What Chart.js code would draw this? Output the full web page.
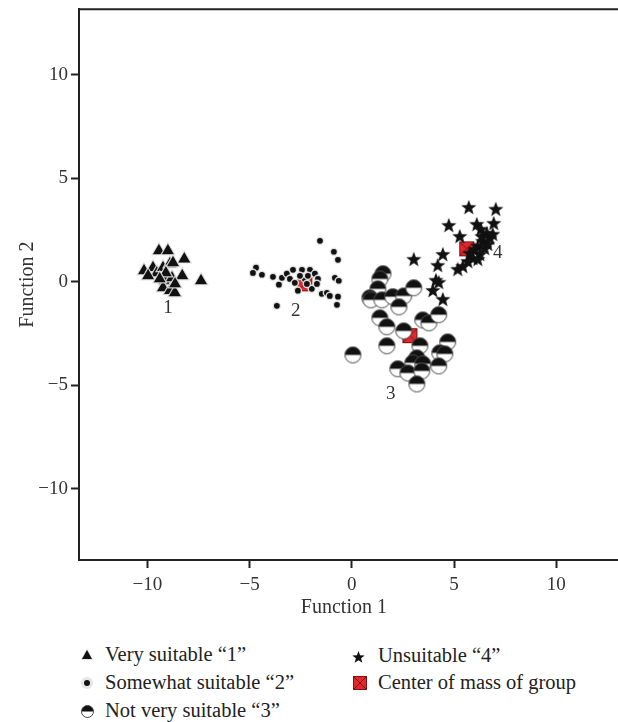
<!DOCTYPE html>
<html>
<head>
<meta charset="utf-8">
<script src="https://cdn.jsdelivr.net/npm/chart.js@4"></script>
<style>
    html, body { margin: 0; background: #fff; overflow: hidden; font-family: "Liberation Serif", "DejaVu Serif", serif; }
    #wrap { position: relative; width: 618px; height: 722px; overflow: hidden; }
    #scatterChart { position: absolute; left: 0; top: 0; }
    .item { position: absolute; font-size: 20.5px; color: #222; line-height: 22px; white-space: nowrap; }
    .item canvas { position: absolute; }
</style>
</head>
<body>
<div id="wrap">
    <canvas id="scatterChart" width="618" height="625"></canvas>
    <div id="legend"></div>
</div>
<script>
// Group 1: Very suitable
const group1X = [-9.44, -9.0, -8.2, -10.17, -9.73, -9.54, -9.24, -8.9, -8.75, -9.14, -8.8, -8.3, -9.24, -8.9, -8.66, -7.38, -9.97, -9.1, -9.4, -8.65];
const group1Y = [1.5, 1.5, 1.1, 0.53, 0.68, 0.43, 0.68, 0.87, 0.92, 0.05, 0.19, 0.29, -0.29, -0.43, -0.53, 0.05, 0.29, 0.43, 0.14, -0.1];

// Group 2: Somewhat suitable
const group2X = [-1.56, -0.88, -0.68, -4.69, -4.84, -4.4, -3.86, -3.57, -3.42, -3.18, -2.88, -2.44, -2.05, -1.81, -1.66, -3.03, -2.79, -2.64, -1.96, -1.71, -0.83, -0.64, -1.47, -1.22, -1.08, -0.68, -0.73, -3.67, -2.3, -2.15, -2.54, -2.2];
const group2Y = [1.98, 1.45, 1.06, 0.68, 0.43, 0.34, 0.24, -0.14, 0.19, 0.39, 0.58, 0.58, 0.58, 0.39, 0.14, 0.14, -0.05, -0.43, -0.34, -0.1, 0.19, 0.05, -0.58, -0.53, -0.68, -0.72, -1.11, -1.16, 0.14, 0.29, 0.29, -0.1];

// Group 3: Not very suitable
const group3X = [1.52, 1.37, 1.27, 0.88, 0.93, 1.47, 2.0, 2.54, 3.03, 2.3, 1.37, 1.71, 3.47, 3.77, 4.25, 2.54, 3.33, 1.71, 4.69, 4.3, 4.55, 3.18, 2.98, 3.47, 4.25, 2.25, 2.74, 3.42, 3.18, 0.05];
const group3Y = [0.39, 0.14, -0.34, -0.77, -0.87, -0.87, -0.72, -0.68, -0.29, -1.21, -1.74, -2.17, -1.84, -1.98, -1.59, -2.37, -3.09, -3.09, -2.9, -3.43, -3.48, -3.67, -3.91, -3.96, -4.06, -4.2, -4.4, -4.3, -4.93, -3.53];

// Group 4: Unsuitable
const group4X = [5.72, 7.04, 4.74, 6.94, 6.11, 5.28, 6.31, 6.6, 6.75, 6.4, 6.16, 6.01, 6.5, 6.26, 5.92, 5.67, 5.43, 5.18, 6.16, 4.45, 3.03, 4.2, 4.11, 4.25, 3.96, 4.45, 6.65, 5.77, 6.36, 6.89];
const group4Y = [3.62, 3.53, 2.75, 2.85, 2.8, 2.22, 2.56, 2.37, 2.13, 1.98, 1.74, 1.59, 1.64, 1.35, 1.16, 1.01, 0.77, 0.63, 1.11, 1.35, 1.11, 0.82, 0.1, 0.0, -0.39, -0.82, 1.84, 1.4, 2.22, 2.32];

// Centers of mass
const centerX = [-9.1, -2.3, 2.84, 5.62];
const centerY = [0.35, -0.1, -2.6, 1.59];

// Group number labels
const groupLabels = ['1', '2', '3', '4'];
const groupLabelX = [-8.99, -2.74, 1.9, 7.14];
const groupLabelY = [-1.26, -1.4, -5.4, 1.4];

const legendNames = ['Very suitable \u201c1\u201d', 'Somewhat suitable \u201c2\u201d', 'Not very suitable \u201c3\u201d', 'Unsuitable \u201c4\u201d', 'Center of mass of group'];

((document) => {
    'use strict';

    const serif = '"Liberation Serif", "DejaVu Serif", serif';

    function toPoints(xs, ys) {
        return xs.map((x, i) => ({ x: x, y: ys[i] }));
    }

    // Half filled circle marker
    function halfCircle(r) {
        let c = document.createElement('canvas');
        let s = Math.ceil(r * 2 + 3);
        c.width = s; c.height = s;
        let ctx = c.getContext('2d');
        let m = s / 2;
        ctx.fillStyle = '#fff';
        ctx.beginPath(); ctx.arc(m, m, r, 0, Math.PI * 2); ctx.fill();
        ctx.fillStyle = '#111';
        ctx.beginPath(); ctx.arc(m, m, r, Math.PI, Math.PI * 2); ctx.closePath(); ctx.fill();
        ctx.strokeStyle = '#444';
        ctx.lineWidth = 1;
        ctx.beginPath(); ctx.arc(m, m, r, 0, Math.PI * 2); ctx.stroke();
        return c;
    }

    // Five point star marker
    function star(r) {
        let c = document.createElement('canvas');
        let s = Math.ceil(r * 2 + 2);
        c.width = s; c.height = s;
        let ctx = c.getContext('2d');
        let m = s / 2;
        ctx.fillStyle = '#111';
        ctx.beginPath();
        for (let i = 0; i < 10; i++) {
            let rr = i % 2 === 0 ? r : r * 0.42;
            let a = -Math.PI / 2 + i * Math.PI / 5;
            let px = m + rr * Math.cos(a), py = m + 1 + rr * Math.sin(a);
            if (i === 0) ctx.moveTo(px, py); else ctx.lineTo(px, py);
        }
        ctx.closePath();
        ctx.fill();
        return c;
    }

    // Red box with a cross
    function crossBox(size) {
        let c = document.createElement('canvas');
        c.width = size + 2; c.height = size + 2;
        let ctx = c.getContext('2d');
        ctx.fillStyle = '#e3262b';
        ctx.fillRect(1, 1, size, size);
        ctx.strokeStyle = '#7a1414';
        ctx.lineWidth = 1;
        ctx.strokeRect(1.5, 1.5, size - 1, size - 1);
        ctx.beginPath();
        ctx.moveTo(1.5, 1.5); ctx.lineTo(size + 0.5, size + 0.5);
        ctx.moveTo(size + 0.5, 1.5); ctx.lineTo(1.5, size + 0.5);
        ctx.stroke();
        return c;
    }

    function triangle(size) {
        let c = document.createElement('canvas');
        c.width = size + 4; c.height = size + 4;
        let ctx = c.getContext('2d');
        ctx.fillStyle = '#111';
        ctx.strokeStyle = '#ddd';
        ctx.lineWidth = 1.5;
        ctx.beginPath();
        ctx.moveTo(c.width / 2, 2);
        ctx.lineTo(c.width - 2, c.height - 3);
        ctx.lineTo(2, c.height - 3);
        ctx.closePath();
        ctx.stroke();
        ctx.fill();
        return c;
    }

    function dot(r) {
        let c = document.createElement('canvas');
        c.width = r * 2 + 8; c.height = r * 2 + 8;
        let ctx = c.getContext('2d');
        let m = c.width / 2;
        ctx.fillStyle = '#e6e6e6';
        ctx.beginPath(); ctx.arc(m, m, r + 3, 0, Math.PI * 2); ctx.fill();
        ctx.fillStyle = '#111';
        ctx.beginPath(); ctx.arc(m, m, r, 0, Math.PI * 2); ctx.fill();
        return c;
    }

    let halfImg = halfCircle(8);
    let starImg = star(8);
    let centerImg = crossBox(15);
    let centerSmall = crossBox(5);

    // Draw open frame (top line) and group numbers
    const framePlugin = {
        id: 'frame',
        afterDatasetsDraw(chart) {
            let ctx = chart.ctx;
            let a = chart.chartArea;
            ctx.save();
            ctx.strokeStyle = '#222';
            ctx.lineWidth = 2;
            ctx.beginPath();
            ctx.moveTo(a.left, a.top);
            ctx.lineTo(chart.width, a.top);
            ctx.moveTo(a.left, a.bottom);
            ctx.lineTo(chart.width, a.bottom);
            ctx.stroke();
            ctx.fillStyle = '#333';
            ctx.font = '19px ' + serif;
            ctx.textAlign = 'center';
            ctx.textBaseline = 'middle';
            groupLabels.forEach((t, i) => {
                ctx.fillText(t, chart.scales.x.getPixelForValue(groupLabelX[i]), chart.scales.y.getPixelForValue(groupLabelY[i]));
            });
            ctx.restore();
        }
    };

    let minus = (v) => String(v).replace('-', '\u2212');

    // No extra label padding round the plot
    function noPadding(scale) {
        scale.paddingTop = 0;
        scale.paddingBottom = 0;
        scale.paddingLeft = 0;
        scale.paddingRight = 0;
    }

    let axisCommon = {
        type: 'linear',
        border: { display: true, color: '#222', width: 2 },
        grid: { drawOnChartArea: false, drawTicks: true, tickLength: 8, tickWidth: 2, tickColor: '#222' },
        ticks: { stepSize: 5, includeBounds: false, color: '#333', font: { family: serif, size: 19 }, callback: minus },
        title: { display: true, color: '#333', font: { family: serif, size: 20 } }
    };

    new Chart(document.getElementById('scatterChart'), {
        type: 'scatter',
        data: {
            datasets: [
                { label: legendNames[0], data: toPoints(group1X, group1Y), pointStyle: 'triangle', pointRadius: 8, backgroundColor: '#111', borderColor: 'rgba(225,225,225,0.9)', borderWidth: 1.2 },
                { label: legendNames[1], data: toPoints(group2X, group2Y), pointStyle: 'circle', pointRadius: 3.6, backgroundColor: '#111', borderColor: 'rgba(235,235,235,0.9)', borderWidth: 1.5 },
                { label: legendNames[2], data: toPoints(group3X, group3Y), pointStyle: halfImg },
                { label: legendNames[3], data: toPoints(group4X, group4Y), pointStyle: starImg },
                { label: legendNames[4], data: toPoints(centerX, centerY), pointStyle: [centerSmall, centerImg, centerImg, centerImg] }
            ]
        },
        options: {
            responsive: false,
            animation: false,
            devicePixelRatio: 1,
            layout: { padding: { top: 2, right: 1, left: 0, bottom: 0 } },
            plugins: { legend: { display: false }, tooltip: { enabled: false } },
            scales: {
                x: Object.assign({}, axisCommon, {
                    min: -13.35, max: 12.57,
                    ticks: Object.assign({}, axisCommon.ticks, { padding: 6 }),
                    title: Object.assign({}, axisCommon.title, { text: 'Function 1', padding: { top: 0, bottom: 5 } }),
                    afterFit: (scale) => { scale.height = 65; noPadding(scale); }
                }),
                y: Object.assign({}, axisCommon, {
                    min: -13.43, max: 13.16,
                    title: Object.assign({}, axisCommon.title, { text: 'Function 2', padding: { top: 16, bottom: 0 } }),
                    afterFit: (scale) => { scale.width = 79; noPadding(scale); }
                })
            }
        },
        plugins: [framePlugin]
    });

    // Legend below the chart
    let icons = [triangle(10), dot(3), halfCircle(6), star(6.5), crossBox(14)];
    let spots = [[87, 655], [87, 683], [87, 711], [358, 656], [360, 683]];
    let legend = document.getElementById('legend');
    legendNames.forEach((name, i) => {
        let item = document.createElement('div');
        item.className = 'item';
        let cx = spots[i][0], cy = spots[i][1];
        let textX = i < 3 ? 105 : 378;
        item.style.left = textX + 'px';
        item.style.top = (cy - 12) + 'px';
        item.textContent = name;
        let ic = icons[i];
        ic.style.left = (cx - ic.width / 2 - textX) + 'px';
        ic.style.top = (12 - ic.height / 2) + 'px';
        item.appendChild(ic);
        legend.appendChild(item);
    });
})(document);
</script>
</body>
</html>
